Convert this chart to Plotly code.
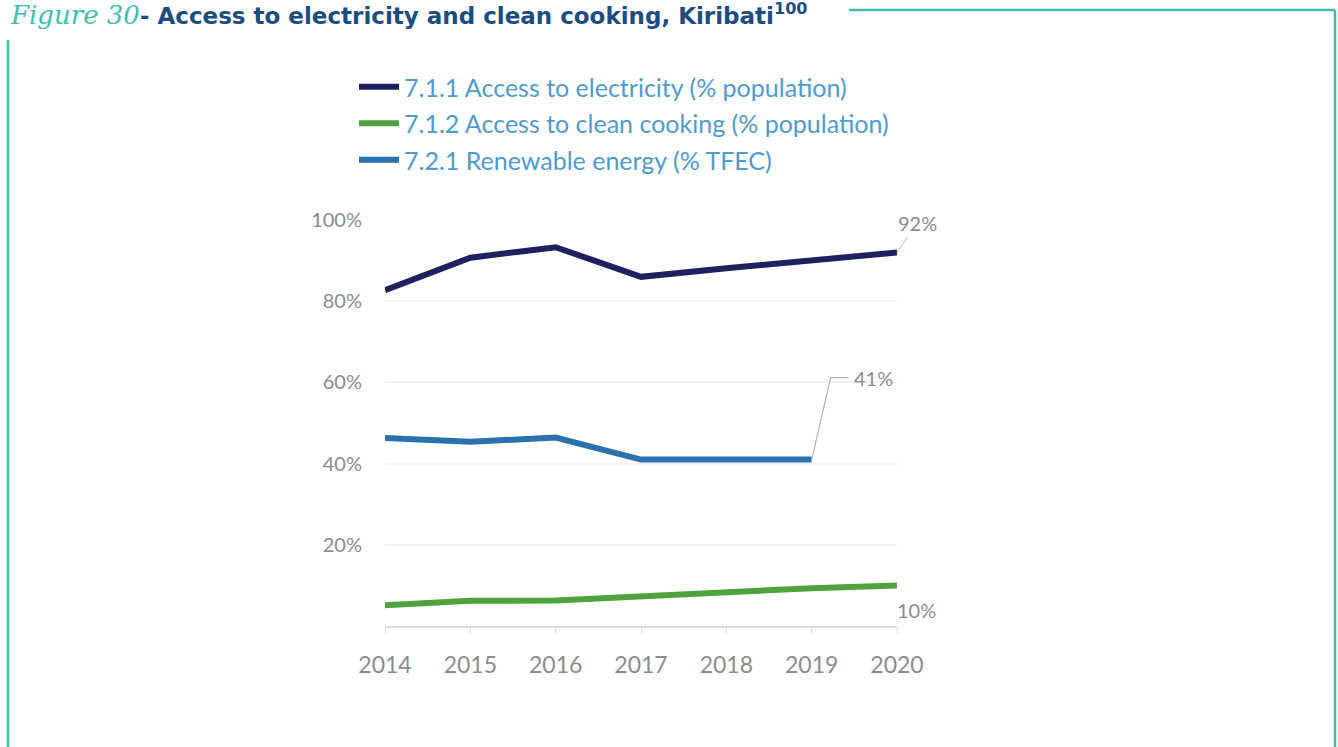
import plotly.graph_objects as go

# ---- data -------------------------------------------------------------
years = [2014, 2015, 2016, 2017, 2018, 2019, 2020]
electricity = [82.7, 90.7, 93.3, 86.0, 88.1, 90.1, 92.0]      # 7.1.1 (% population)
clean_cooking = [5.1, 6.2, 6.3, 7.3, 8.4, 9.3, 10.0]          # 7.1.2 (% population)
renewable = [46.3, 45.4, 46.4, 41.0, 41.0, 41.0, None]        # 7.2.1 (% TFEC)

series_names = [
    "7.1.1 Access to electricity (% population)",
    "7.1.2 Access to clean cooking (% population)",
    "7.2.1 Renewable energy (% TFEC)",
]
y_ticks = [20, 40, 60, 80, 100]
y_tick_text = ["20%", "40%", "60%", "80%", "100%"]

# ---- layout geometry (pixels) -----------------------------------------
W, H = 1338, 747
L, R, T, B = 385, 441, 220, 121
PW, PH = W - L - R, H - T - B

def px(x):
    return (x - L) / PW

def py(y):
    return (H - B - y) / PH

NAVY = "#1e2160"
GREEN = "#4ea33d"
BLUE = "#2b71b0"
TEAL = "#3dbfad"
GREY_TXT = "#8c8c8c"
LEGEND_TXT = "#4f9bd0"
TITLE_BLUE = "#1b4d80"
FONT = "Lato"

fig = go.Figure()
for name, vals, color in zip(series_names, [electricity, clean_cooking, renewable],
                             [NAVY, GREEN, BLUE]):
    fig.add_trace(go.Scatter(
        x=years, y=vals, mode="lines", name=name,
        line=dict(color=color, width=6), legendgroup=name,
        hoverinfo="skip",
    ))

# value labels at the series ends
annotations = [
    dict(x=years[-1], y=electricity[-1], xref="x", yref="y",
         text=f"{electricity[-1]:.0f}%", showarrow=True, arrowhead=0,
         arrowwidth=1.2, arrowcolor="#c8c8c8", ax=20, ay=-29,
         font=dict(family=FONT, size=20, color=GREY_TXT)),
    dict(x=years[5], y=renewable[5], xref="x", yref="y",
         text=f"{renewable[5]:.0f}%", showarrow=False,
         xanchor="left", yanchor="middle", xshift=40, yshift=82,
         font=dict(family=FONT, size=20, color=GREY_TXT)),
    dict(x=years[-1], y=clean_cooking[-1], xref="x", yref="y",
         text=f"{clean_cooking[-1]:.0f}%", showarrow=False,
         xanchor="center", yanchor="middle", xshift=19, yshift=-25,
         font=dict(family=FONT, size=20, color=GREY_TXT)),
    # figure heading
    dict(x=px(8), y=py(14), xref="paper", yref="paper", xanchor="left", yanchor="middle",
         showarrow=False,
         text=("<span style='font-family:DejaVu Serif;font-style:italic;font-size:26px;color:"
               + TEAL + "'>Figure 30</span>"
               "<b>- Access to electricity and clean cooking, Kiribati</b>"
               "<sup><b>100</b></sup>"),
         font=dict(family="DejaVu Sans", size=23, color=TITLE_BLUE)),
]

shapes = [
    # elbow leader for the renewable energy label
    dict(type="path", xref="x", yref="y", xsizemode="pixel", ysizemode="pixel",
         xanchor=years[5], yanchor=renewable[5],
         path="M 0,0 L 19,82 L 37,82", line=dict(color="#b4b4b4", width=1.2)),
    # frame around the figure
    dict(type="line", xref="paper", yref="paper", x0=px(849), x1=px(1335), y0=py(10), y1=py(10),
         line=dict(color=TEAL, width=2.5)),
    dict(type="line", xref="paper", yref="paper", x0=px(1335), x1=px(1335), y0=py(10), y1=py(760),
         line=dict(color=TEAL, width=2.5)),
    dict(type="line", xref="paper", yref="paper", x0=px(8), x1=px(8), y0=py(40), y1=py(760),
         line=dict(color=TEAL, width=2.5)),
]

fig.update_layout(
    width=W, height=H,
    margin=dict(l=L, r=R, t=T, b=B, pad=0),
    paper_bgcolor="white", plot_bgcolor="white",
    showlegend=True,
    legend=dict(x=px(354), y=py(64), xanchor="left", yanchor="top",
                font=dict(family=FONT, size=25, color=LEGEND_TXT),
                tracegroupgap=1, itemwidth=40, bgcolor="rgba(0,0,0,0)"),
    annotations=annotations,
    shapes=shapes,
    xaxis=dict(range=[2014, 2020], tickvals=years, ticktext=[str(y) for y in years],
               showgrid=False, zeroline=False, showline=True, linecolor="#dedede",
               linewidth=1.5, ticks="outside", ticklen=6, tickcolor="#dedede",
               ticklabelstandoff=12,
               tickfont=dict(family=FONT, size=23, color=GREY_TXT)),
    yaxis=dict(range=[0, 100], tickvals=y_ticks, ticktext=y_tick_text,
               showgrid=True, gridcolor="#f1f1f1", gridwidth=1.5, zeroline=False,
               showline=False, ticks="", ticklabelstandoff=22,
               tickfont=dict(family=FONT, size=20, color=GREY_TXT)),
)

fig.write_html("out.html")
